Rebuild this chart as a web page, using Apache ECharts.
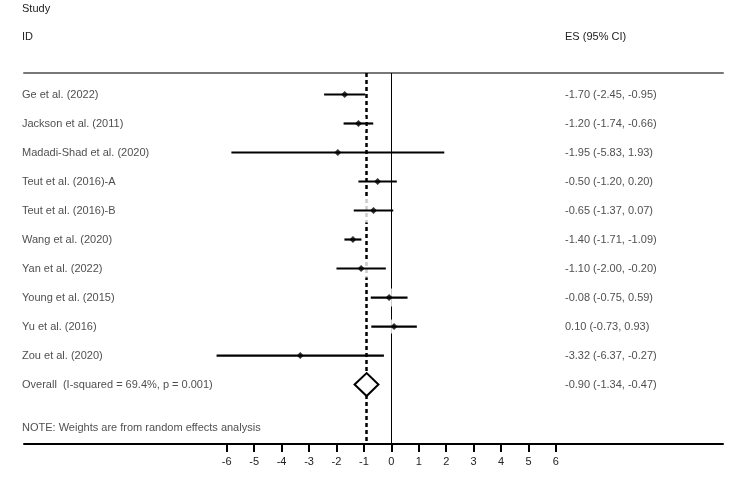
<!DOCTYPE html>
<html>
<head>
    <meta charset="utf-8"/>
    <script src="https://cdn.jsdelivr.net/npm/echarts@6.0.0/dist/echarts.min.js"></script>
    <style>
        html, body { margin: 0; padding: 0; background: #fff; }
    </style>
</head>
<body>
<div id="main" style="width: 744px;height:499px;"></div>
<script type="text/javascript">
    // study data
    var studies = ['Ge et al. (2022)', 'Jackson et al. (2011)', 'Madadi-Shad et al. (2020)', 'Teut et al. (2016)-A',
        'Teut et al. (2016)-B', 'Wang et al. (2020)', 'Yan et al. (2022)', 'Young et al. (2015)', 'Yu et al. (2016)', 'Zou et al. (2020)'];
    var es = [-1.70, -1.20, -1.95, -0.50, -0.65, -1.40, -1.10, -0.08, 0.10, -3.32];
    var lower = [-2.45, -1.74, -5.83, -1.20, -1.37, -1.71, -2.00, -0.75, -0.73, -6.37];
    var upper = [-0.95, -0.66, 1.93, 0.20, 0.07, -1.09, -0.20, 0.59, 0.93, -0.27];
    // hidden weight boxes (white), rough pixel sizes
    var weights = [16, 14, 4, 16, 24, 24, 18, 18, 14, 6];

    var overallLabel = 'Overall  (I-squared = 69.4%, p = 0.001)';
    var overall = [-0.90, -1.34, -0.47];
    var noteText = 'NOTE: Weights are from random effects analysis';
    var tickValues = [-6, -5, -4, -3, -2, -1, 0, 1, 2, 3, 4, 5, 6];

    var xMin = -13.39, xMax = 12.09;
    var esColX = 6.33;
    var fmt = function (v) { return v.toFixed(2); };
    var font = 'Liberation Sans, Arial, sans-serif';

    var ciData = [], pointData = [], boxData = [], nameData = [], esData = [];
    for (var i = 0; i < studies.length; i++) {
        ciData.push([lower[i], upper[i], i]);
        pointData.push([es[i], i]);
        boxData.push([es[i], i, weights[i]]);
        nameData.push([xMin, i, studies[i]]);
        esData.push([esColX, i, fmt(es[i]) + ' (' + fmt(lower[i]) + ', ' + fmt(upper[i]) + ')']);
    }
    var ov = studies.length;
    nameData.push([xMin, ov, overallLabel]);
    nameData.push([xMin, ov + 1.5, noteText]);
    esData.push([esColX, ov, fmt(overall[0]) + ' (' + fmt(overall[1]) + ', ' + fmt(overall[2]) + ')']);

    var myChart = echarts.init(document.getElementById('main'));

    var textLabel = {
        show: true, position: 'right', distance: 0,
        color: '#222', fontSize: 11, fontFamily: font,
        formatter: function (p) { return p.data[2]; }
    };

    var option = {
        animation: false,
        backgroundColor: '#fff',
        grid: { left: 24, right: 21, top: 73, bottom: 55 },
        xAxis: [{
            type: 'value', position: 'bottom', min: xMin, max: xMax,
            splitLine: { show: false },
            axisLine: { show: true, onZero: false, lineStyle: { color: '#000', width: 2 } },
            axisTick: { show: true, customValues: tickValues, length: 8, lineStyle: { color: '#000', width: 2 } },
            axisLabel: { customValues: tickValues, margin: 12, color: '#222', fontSize: 11, fontFamily: font }
        }, {
            type: 'value', position: 'top', min: xMin, max: xMax,
            splitLine: { show: false },
            axisLine: { show: true, onZero: false, lineStyle: { color: '#777', width: 2 } },
            axisTick: { show: false },
            axisLabel: { show: false }
        }],
        yAxis: {
            type: 'value', inverse: true, min: -0.741, max: 12.05,
            show: false
        },
        graphic: [
            { type: 'text', left: 22, top: 3, style: { text: 'Study', fill: '#222', fontSize: 11, fontFamily: font } },
            { type: 'text', left: 22, top: 31, style: { text: 'ID', fill: '#222', fontSize: 11, fontFamily: font } },
            { type: 'text', left: 565, top: 31, style: { text: 'ES (95% CI)', fill: '#222', fontSize: 11, fontFamily: font } }
        ],
        series: [
            {
                // reference lines: no effect and overall estimate
                type: 'line', data: [], z: 1, silent: true,
                markLine: {
                    z: 1,
                    symbol: 'none', silent: true, label: { show: false },
                    data: [
                        { xAxis: 0, lineStyle: { color: '#000', width: 1, type: 'solid' } },
                        { xAxis: overall[0], lineStyle: { color: '#000', width: 2.5, type: [4, 3] } }
                    ]
                }
            },
            {
                // weight boxes (white, hide the reference lines)
                type: 'scatter', z: 2, silent: true,
                symbol: 'rect',
                symbolSize: function (d) { return d[2]; },
                itemStyle: { color: '#fff' },
                data: boxData
            },
            {
                type: 'custom', z: 3, silent: true,
                renderItem: function (params, api) {
                    var a = api.coord([api.value(0), api.value(2)]);
                    var b = api.coord([api.value(1), api.value(2)]);
                    return {
                        type: 'line',
                        shape: { x1: a[0], y1: a[1], x2: b[0], y2: b[1] },
                        style: { stroke: '#000', lineWidth: 2.2 }
                    };
                },
                encode: { x: [0, 1], y: 2 },
                data: ciData
            },
            {
                type: 'scatter', z: 4, silent: true,
                symbol: 'diamond', symbolSize: 7,
                itemStyle: { color: '#000' },
                data: pointData
            },
            {
                // overall diamond
                type: 'custom', z: 4, silent: true,
                renderItem: function (params, api) {
                    var c = api.coord([api.value(0), api.value(3)]);
                    var l = api.coord([api.value(1), api.value(3)]);
                    var r = api.coord([api.value(2), api.value(3)]);
                    var h = 11.5;
                    return {
                        type: 'polygon',
                        shape: { points: [[l[0], c[1]], [c[0], c[1] - h], [r[0], c[1]], [c[0], c[1] + h]] },
                        style: { fill: '#fff', stroke: '#000', lineWidth: 2 }
                    };
                },
                encode: { x: [0, 1, 2], y: 3 },
                data: [[overall[0], overall[1], overall[2], ov]]
            },
            {
                type: 'scatter', z: 5, silent: true, symbolSize: 0,
                label: Object.assign({}, textLabel, { offset: [-2, 0] }),
                data: nameData
            },
            {
                type: 'scatter', z: 5, silent: true, symbolSize: 0,
                label: textLabel,
                data: esData
            }
        ]
    };

    myChart.setOption(option);
</script>
</body>
</html>
